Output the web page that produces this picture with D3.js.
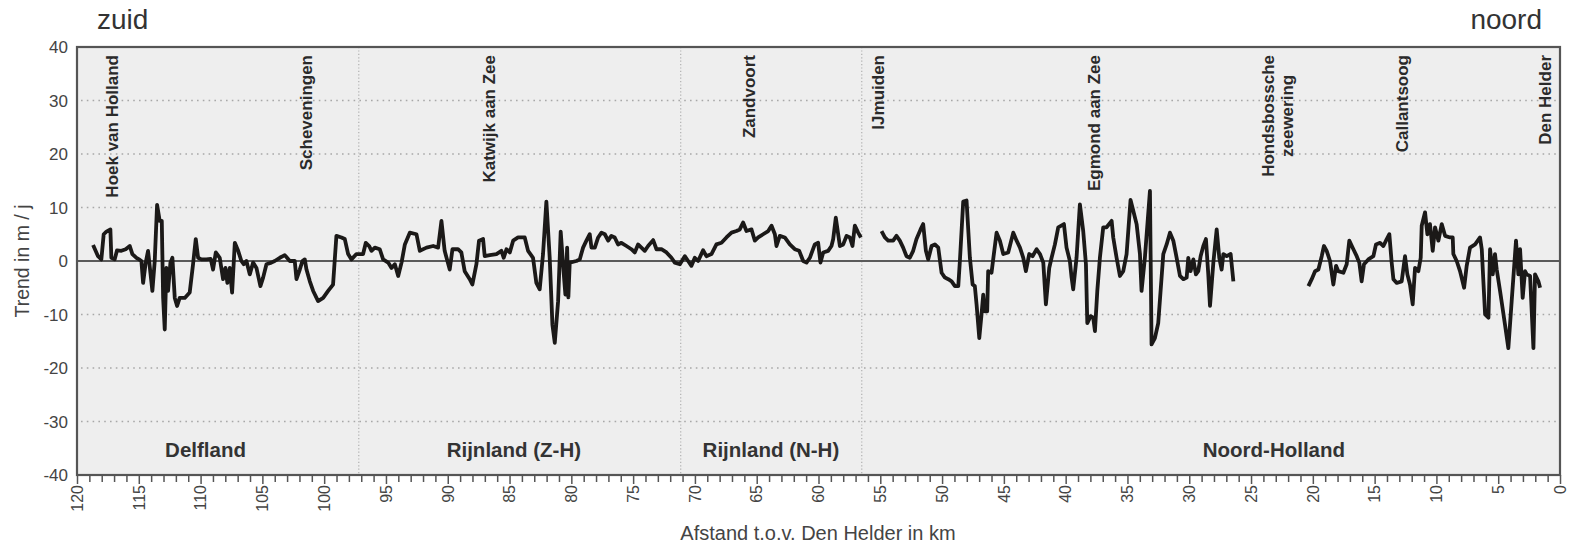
<!DOCTYPE html>
<html><head><meta charset="utf-8">
<script src="https://cdn.jsdelivr.net/npm/d3@7/dist/d3.min.js"></script>
<style>body{margin:0;background:#fff}svg{display:block;font-family:"Liberation Sans",Arial,sans-serif}</style>
</head><body><svg id="c" width="1575" height="548"></svg>
<script>
// distance from Den Helder (km) and trend (m/j); null = gap
const km = [118.70,118.30,118.03,117.84,117.62,117.30,117.22,116.95,116.76,116.41,116.06,115.73,115.52,115.19,114.98,114.79,114.65,114.44,114.25,114.06,113.90,113.71,113.52,113.31,113.14,113.03,112.90,112.77,112.63,112.44,112.28,112.09,111.90,111.69,111.28,110.88,110.61,110.39,110.20,109.93,109.53,109.18,108.99,108.77,108.45,108.18,107.99,107.83,107.64,107.45,107.23,106.96,106.70,106.51,106.29,106.02,105.75,105.48,105.16,104.94,104.67,104.27,104.00,103.59,103.19,102.78,102.38,102.24,101.97,101.76,101.57,101.43,101.16,100.89,100.49,100.08,99.68,99.28,99.01,98.60,98.33,98.06,97.79,97.39,96.85,96.63,96.36,96.17,95.90,95.50,95.23,94.82,94.55,94.28,94.01,93.74,93.47,93.07,92.53,92.26,91.72,91.18,90.78,90.51,
90.25,89.84,89.62,89.17,88.90,88.63,88.22,88.01,87.68,87.47,87.14,87.01,86.60,86.06,85.66,85.47,85.25,84.98,84.71,84.31,83.77,83.50,83.10,82.83,82.56,82.29,82.02,81.75,81.53,81.34,81.07,80.86,80.61,80.48,80.34,80.24,80.13,79.59,79.32,79.05,78.78,78.51,78.37,78.10,77.83,77.56,77.29,77.02,76.76,76.49,76.22,75.95,75.54,75.14,74.87,74.60,74.33,74.06,73.79,73.38,73.11,72.71,72.30,71.90,71.63,71.22,70.82,70.55,70.28,70.01,69.74,69.34,69.07,68.66,68.26,67.85,67.45,67.04,66.64,66.37,66.10,65.83,65.42,65.15,64.88,64.48,64.07,63.80,63.53,63.40,63.13,62.73,62.32,61.92,61.56,61.24,60.97,
60.70,60.30,60.03,59.84,59.62,59.22,58.95,58.81,58.60,58.27,58.00,57.73,57.46,57.25,57.06,56.79,56.57,55.7,
54.90,54.63,54.36,53.96,53.69,53.42,53.15,52.88,52.61,52.34,52.07,51.74,51.53,51.31,51.12,50.85,50.58,50.31,50.04,49.77,49.50,49.23,48.96,48.69,48.56,48.29,48.02,47.75,47.53,47.35,47.21,46.99,46.81,46.67,46.54,46.35,46.27,46.00,45.81,45.59,45.32,45.05,44.65,44.24,43.97,43.70,43.43,43.22,42.95,42.68,42.35,42.08,41.81,41.60,41.33,41.14,40.87,40.60,40.14,39.93,39.66,39.52,39.39,39.12,38.85,38.58,38.36,38.25,37.98,37.77,37.63,37.44,37.23,36.96,36.69,36.28,36.15,35.88,35.61,35.34,35.07,34.75,34.53,34.26,33.99,33.86,33.59,33.18,33.05,32.78,32.51,
32.10,31.83,31.56,31.29,31.02,30.75,30.48,30.21,30.08,29.89,29.67,29.46,29.27,29.08,28.86,28.65,28.46,28.32,28.05,27.78,27.57,27.38,27.24,26.97,26.65,26.43,23.4,
20.36,20.09,19.82,19.55,19.28,19.10,18.88,18.61,18.34,18.12,17.94,17.53,17.26,17.05,16.72,16.45,16.24,16.05,15.86,15.51,15.10,14.89,14.56,14.29,14.02,13.81,13.62,13.48,13.21,12.81,12.54,12.35,12.14,11.92,11.73,11.46,11.27,11.19,10.92,10.73,10.52,10.30,10.11,9.84,9.57,9.30,8.90,8.68,8.63,8.36,8.09,7.76,7.55,7.28,6.87,6.47,6.33,6.20,6.06,5.79,5.66,5.44,5.26,5.12,4.85,4.45,4.18,3.91,3.56,3.37,3.23,3.02,2.83,2.69,2.42,2.15,2.02,1.75,1.61];
const trend = [3.0,0.9,0.3,5.0,5.5,5.9,0.6,0.3,2.0,1.9,2.2,2.8,1.3,0.6,0.3,0.0,-4.1,-0.3,1.9,-2.2,-5.6,0.0,10.5,7.5,7.5,-6.9,-12.8,-1.3,-5.6,-0.3,0.6,-6.9,-8.4,-6.9,-6.9,-5.9,-0.6,4.1,0.6,0.3,0.3,0.4,-1.6,1.6,0.6,-3.4,-1.3,-4.1,-1.3,-5.9,3.4,1.9,0.0,-0.6,0.0,-2.5,-0.3,-1.3,-4.7,-3.1,-0.6,-0.3,0.0,0.6,1.1,0.0,0.0,-3.4,-1.6,0.0,0.3,-1.6,-3.8,-5.6,-7.5,-6.9,-5.6,-4.4,4.7,4.4,4.1,1.3,0.3,1.3,1.3,3.4,2.8,1.9,2.5,2.2,0.3,-0.3,-1.3,-0.6,-2.8,-0.3,3.1,5.3,5.0,1.9,2.5,2.8,2.5,7.5,
1.9,-1.6,2.2,2.2,1.6,-1.9,-3.4,-4.4,-0.6,3.8,4.1,0.9,1.1,1.3,1.9,0.6,2.2,1.6,3.8,4.4,4.4,1.9,0.6,-4.1,-5.3,1.3,11.1,0.6,-11.9,-15.3,-7.5,5.5,-2.5,-6.3,2.5,-6.8,-0.3,0.0,0.3,2.5,3.8,5.0,2.5,2.5,4.4,5.3,5.0,3.8,4.7,4.4,3.1,3.4,2.8,2.2,1.6,3.1,2.5,1.9,2.8,3.9,2.2,2.2,1.6,0.6,-0.3,-0.6,0.9,0.0,-0.9,0.6,0.0,2.0,0.9,1.3,3.1,3.4,4.4,5.3,5.6,5.9,7.2,5.6,5.9,3.8,4.4,5.0,5.6,6.6,5.0,2.8,4.7,4.4,3.1,2.2,1.9,0.0,-0.3,
0.6,3.1,3.4,-0.3,1.6,1.9,2.8,4.1,8.1,2.8,3.1,4.7,4.4,2.8,6.6,5.3,4.4,null,
5.6,4.4,3.8,3.8,4.7,3.8,2.5,0.9,0.6,1.9,4.1,5.9,6.9,1.9,0.3,2.8,3.1,2.5,-2.2,-3.1,-3.4,-3.8,-4.7,-4.7,0.0,11.1,11.3,0.6,-4.4,-4.7,-8.1,-14.4,-10.0,-6.3,-9.4,-9.4,-1.9,-2.2,1.3,5.3,3.8,1.3,1.6,5.3,3.8,2.5,0.6,-1.9,1.3,0.9,2.2,1.3,-0.3,-8.1,-1.3,0.6,3.1,6.3,6.9,2.5,0.0,-3.1,-5.3,0.6,10.6,5.6,-0.6,-11.6,-10.3,-10.6,-13.1,-5.6,0.6,6.3,6.3,7.5,4.4,0.6,-2.8,-1.9,1.3,11.4,9.4,6.9,1.3,-5.6,0.6,13.1,-15.6,-14.4,-11.6,
1.3,3.1,5.3,3.8,0.6,-2.8,-3.4,-3.1,0.6,-1.9,0.3,-2.5,-1.9,0.9,2.8,4.1,-2.5,-8.4,-0.3,5.9,0.6,-1.6,1.3,0.9,1.3,-3.8,null,
-4.7,-3.4,-1.9,-1.6,0.9,2.8,1.9,0.0,-4.4,-0.9,-1.9,-2.2,-0.6,3.8,2.2,0.9,-0.3,-3.8,-0.6,0.3,0.9,3.1,3.4,2.8,4.1,5.0,-0.3,-3.4,-4.1,-3.8,0.9,-2.5,-4.4,-8.1,-1.3,-1.9,0.6,6.6,9.1,5.0,6.9,1.9,6.3,3.8,6.9,4.7,4.4,4.4,1.3,0.0,-1.9,-5.0,-0.9,2.5,3.1,4.4,2.2,-3.8,-10.0,-10.6,2.2,-2.5,1.3,-1.6,-5.6,-11.9,-16.3,-7.5,3.8,-2.5,2.2,-6.9,-1.9,-2.5,-2.8,-16.3,-2.5,-3.8,-5.0];

const yTicks = [40,30,20,10,0,-10,-20,-30,-40];
const xTickLabels = [120,115,110,105,100,95,90,85,80,75,70,65,60,55,50,45,40,35,30,25,20,15,10,5,0];
const sectionBounds = [97.2,71.15,56.5];
const regions = [["Delfland",109.6],["Rijnland (Z-H)",84.65],["Rijnland (N-H)",63.85],["Noord-Holland",23.15]];
const places = [[["Hoek van Holland"],117.2],[["Scheveningen"],101.45],[["Katwijk aan Zee"],86.65],[["Zandvoort"],65.6],[["IJmuiden"],55.2],[["Egmond aan Zee"],37.7],[["Hondsbossche","zeewering"],22.85],[["Callantsoog"],12.8],[["Den Helder"],1.2]];

const L=77, R=1560, T=47, B=475;
const svg = d3.select("#c");
const x = d3.scaleLinear().domain([120,0]).range([L,R]);
const y = d3.scaleLinear().domain([-40,40]).range([B,T]);

svg.append("rect").attr("x",L).attr("y",T).attr("width",R-L).attr("height",B-T).attr("fill","#eeeeee");

// grid
svg.append("g").selectAll("line").data(yTicks.filter(d=>d!==0 && Math.abs(d)!==40)).join("line")
  .attr("x1",L+4).attr("x2",R-4).attr("y1",d=>y(d)).attr("y2",d=>y(d))
  .attr("stroke","#a8a8a8").attr("stroke-width",1.6).attr("stroke-dasharray","1.6,4.2");
svg.append("g").selectAll("line").data(sectionBounds).join("line")
  .attr("x1",d=>x(d)).attr("x2",d=>x(d)).attr("y1",T).attr("y2",B)
  .attr("stroke","#b0b0b0").attr("stroke-width",1.2).attr("stroke-dasharray","1.2,2.2");
svg.append("line").attr("x1",L).attr("x2",R).attr("y1",y(0)).attr("y2",y(0)).attr("stroke","#5a5a5a").attr("stroke-width",2);

// data line
const data = km.map((k,i)=>({k, v:trend[i]}));
svg.append("path").datum(data)
  .attr("d", d3.line().defined(d=>d.v!==null).x(d=>x(d.k)).y(d=>y(d.v)))
  .attr("fill","none").attr("stroke","#1b1918").attr("stroke-width",3.8).attr("stroke-linejoin","round");

// frame
svg.append("rect").attr("x",L).attr("y",T).attr("width",R-L).attr("height",B-T).attr("fill","none").attr("stroke","#555").attr("stroke-width",2.2);

// y axis labels
svg.append("g").selectAll("text").data(yTicks).join("text")
  .attr("x",L-9).attr("y",d=>y(d)).attr("dy","0.36em").attr("text-anchor","end")
  .attr("font-size",17).attr("fill","#444").text(d=>d);

// x ticks
const ax = d3.axisBottom(x).tickValues(d3.range(0,121,1)).tickSize(7).tickFormat("");
const gx = svg.append("g").attr("transform",`translate(0,${B})`).call(ax);
gx.select(".domain").remove();
gx.selectAll(".tick line").attr("stroke","#555").attr("stroke-width",1.5).attr("y2",d=>d%5===0?9:7);
svg.append("g").selectAll("text").data(xTickLabels).join("text")
  .attr("transform",d=>`translate(${x(d)},${B+10}) rotate(-90)`).attr("dy","0.36em").attr("text-anchor","end")
  .attr("font-size",16).attr("fill","#444").text(d=>d);

// axis titles
svg.append("text").attr("transform",`translate(29,${(T+B)/2}) rotate(-90)`).attr("text-anchor","middle")
  .attr("font-size",19.5).attr("fill","#444").text("Trend in m / j");
svg.append("text").attr("x",818).attr("y",540).attr("text-anchor","middle")
  .attr("font-size",20).attr("fill","#444").text("Afstand t.o.v. Den Helder in km");

// zuid / noord
svg.append("text").attr("x",97).attr("y",29).attr("font-size",28).attr("fill","#333").text("zuid");
svg.append("text").attr("x",1542).attr("y",29).attr("text-anchor","end").attr("font-size",28).attr("fill","#333").text("noord");

// region labels
svg.append("g").selectAll("text").data(regions).join("text")
  .attr("x",d=>x(d[1])).attr("y",457).attr("text-anchor","middle").attr("font-weight","bold")
  .attr("font-size",20.5).attr("fill","#333").text(d=>d[0]);

// place labels (multi-line labels are centred on their first line)
const pg = svg.append("g").selectAll("g").data(places).join("g")
  .attr("transform",d=>`translate(${x(d[1])},55) rotate(-90)`);
pg.each(function(d){
  const n=d[0].length;
  const g=d3.select(this);
  const t=g.selectAll("text").data(d[0]).join("text")
    .attr("x",0).attr("y",(s,i)=>(i-(n-1)/2)*19).attr("dy","0.36em").attr("text-anchor","end")
    .attr("font-weight","bold").attr("font-size",17).attr("fill","#2a2a2a").text(s=>s);
  if(n>1){
    const w=t.nodes()[0].getComputedTextLength();
    t.attr("text-anchor","middle").attr("x",-w/2);
  }
});
</script></body></html>
